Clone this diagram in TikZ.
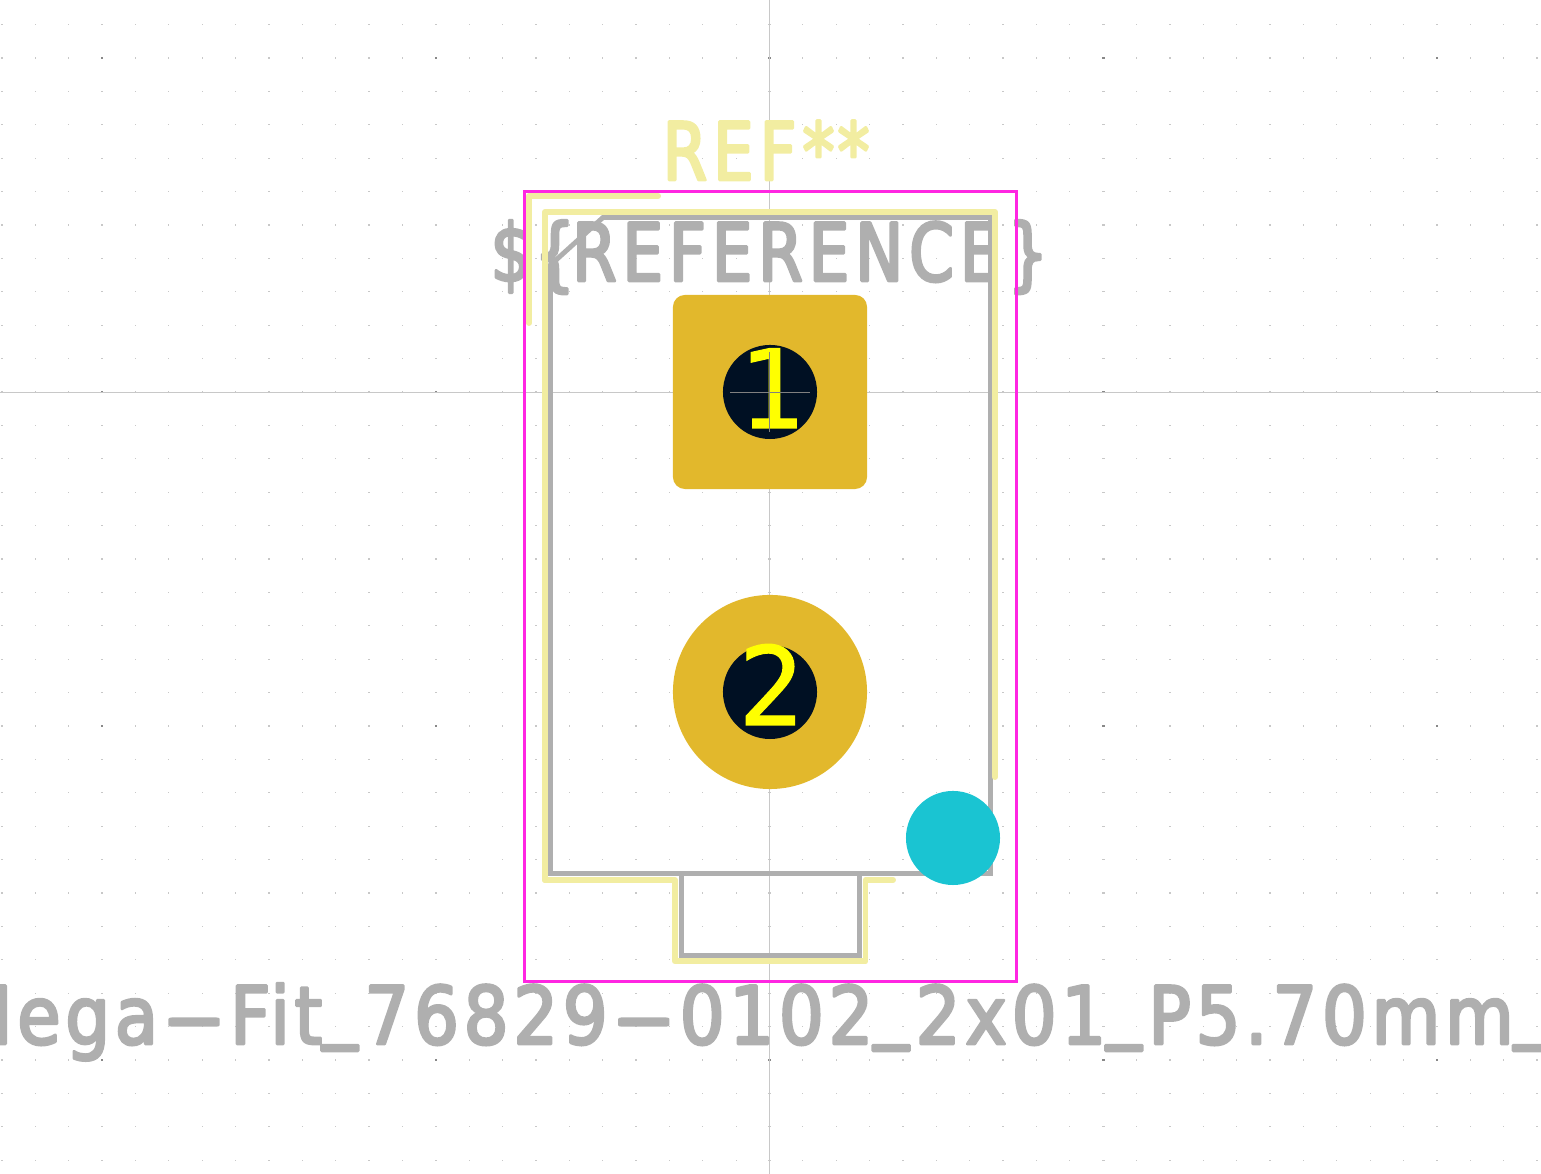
\documentclass[tikz,border=0pt]{standalone}
\usepackage{fontspec}
\usepackage{xcolor}
\definecolor{silk-yellow}{RGB}{242,237,161}
\definecolor{fab-gray}{RGB}{175,175,175}
\definecolor{court-magenta}{RGB}{255,38,226}
\definecolor{pad-gold}{RGB}{226,184,44}
\definecolor{drill-navy}{RGB}{0,16,35}
\definecolor{num-yellow}{RGB}{255,255,0}
\definecolor{mark-cyan}{RGB}{26,196,210}
\definecolor{axis-gray}{RGB}{200,200,200}
\definecolor{dot-gray}{RGB}{200,200,200}
\definecolor{dot-dark}{RGB}{136,136,136}
\newfontfamily\kifont{DejaVu Sans}[FakeBold=3.5,FakeStretch=0.88,LetterSpace=6]
\newfontfamily\kitight{DejaVu Sans}[FakeBold=3.5,FakeStretch=0.8,LetterSpace=7.5]
\newfontfamily\kinum{DejaVu Sans Mono}[FakeBold=1]
\newcommand{\pxk}[1]{\kern#1\dimexpr0.2845pt\relax}
\newcommand{\kidash}{\makebox[0.9em][c]{\scalebox{2.4}[1]{-}}}
\newcommand{\kiunder}{\raisebox{0.15em}{\_}\pxk{7}}
\newcommand{\kiround}{\special{pdf:code 1 J 1 j}}
\usetikzlibrary{positioning}

\begin{document}
\begin{tikzpicture}[
    x=0.01cm, y=-0.01cm,
    every node/.style={inner sep=0pt},
    silkline/.style={silk-yellow, line width=1.7pt, line cap=round, line join=round},
    fabline/.style={fab-gray, line width=1.4pt, line join=miter},
    bigtext/.style={font=\fontsize{22.76pt}{26pt}\selectfont\kifont\kiround, anchor=base west},
    tighttext/.style={font=\fontsize{22.76pt}{26pt}\selectfont\kitight\kiround, anchor=base west},
    padnum/.style={font=\fontsize{31pt}{36pt}\selectfont\kinum, text=num-yellow}
]

\useasboundingbox (0,0) rectangle (1541,1174);
\clip (0,0) rectangle (1541,1174);

% Background grid
\foreach \i in {-23,...,23} {
    \foreach \j in {-11,...,23} {
        \pgfmathsetmacro{\dw}{mod(abs(\i),10)==0 ? 2.6 : 1.2}
        \pgfmathsetmacro{\dh}{mod(abs(\j),10)==0 ? 2.6 : 1.2}
        \pgfmathsetmacro{\dc}{(mod(abs(\i),10)==0 && mod(abs(\j),10)==0) ? 1 : 0}
        \ifdim\dc pt>0.5pt
            \fill[dot-dark] (769.5+33.37*\i-\dw/2, 392+33.4*\j-\dh/2) rectangle ++(\dw,\dh);
        \else
            \fill[dot-gray] (769.5+33.37*\i-\dw/2, 392+33.4*\j-\dh/2) rectangle ++(\dw,\dh);
        \fi
    }
}

% Axes
\draw[axis-gray, line width=0.28pt] (769.5,0) -- (769.5,1174);
\draw[axis-gray, line width=0.28pt] (0,392.5) -- (1541,392.5);

% Fabrication texts
\node[tighttext, text=fab-gray] (fabref) at (490,281) {\$\pxk{3}\{\pxk{-3}REFERENCE\pxk{7}\}};
\node[bigtext, text=fab-gray] (fpname) at (-49,1044) {Mega\kidash Fit\kiunder 76829\kidash 0102\kiunder 2x01\kiunder P5.70mm\kiunder};

% Fabrication outline
\draw[fabline] (603,217.5) -- (990.5,217.5) -- (990.5,873.5) -- (859.5,873.5) -- (859.5,955.5)
    -- (681.5,955.5) -- (681.5,873.5) -- (550.5,873.5) -- (550.5,265) -- cycle;
\draw[fabline] (681.5,873.5) -- (859.5,873.5);

% Courtyard
\draw[court-magenta, line width=0.77pt] (524.8,191.3) rectangle (1016.4,981.3);

% Silkscreen
\draw[silkline] (658,196) -- (529,196) -- (529,323);
\draw[silkline] (545,880) -- (545,212) -- (995,212) -- (995,777);
\draw[silkline] (545,880) -- (675,880) -- (675,961.5) -- (865.5,961.5) -- (865.5,880) -- (893,880);
\node[tighttext, text=silk-yellow] (silkref) at (662,180) {REF\pxk{6}*\pxk{3}*};

% Pads
\node[fill=pad-gold, minimum size=1.94cm, rounded corners=0.12cm] (padone) at (770,392) {};
\node[fill=pad-gold, circle, minimum size=1.94cm] (padtwo) at (770,692) {};
\node[fill=drill-navy, circle, minimum size=0.94cm] (drillone) at (padone.center) {};
\node[fill=drill-navy, circle, minimum size=0.94cm] (drilltwo) at (padtwo.center) {};
\node[padnum, anchor=base] (numone) at (771,428) {1};
\node[padnum, anchor=base] (numtwo) at (771,725) {2};

% Pad anchor
\draw[gray, line width=0.3pt] (730,392.5) -- (810,392.5);
\draw[gray, line width=0.3pt] (769.5,352) -- (769.5,432);

% Marker
\node[fill=mark-cyan, circle, minimum size=0.94cm] (marker) at (953,838) {};

\end{tikzpicture}
\end{document}
